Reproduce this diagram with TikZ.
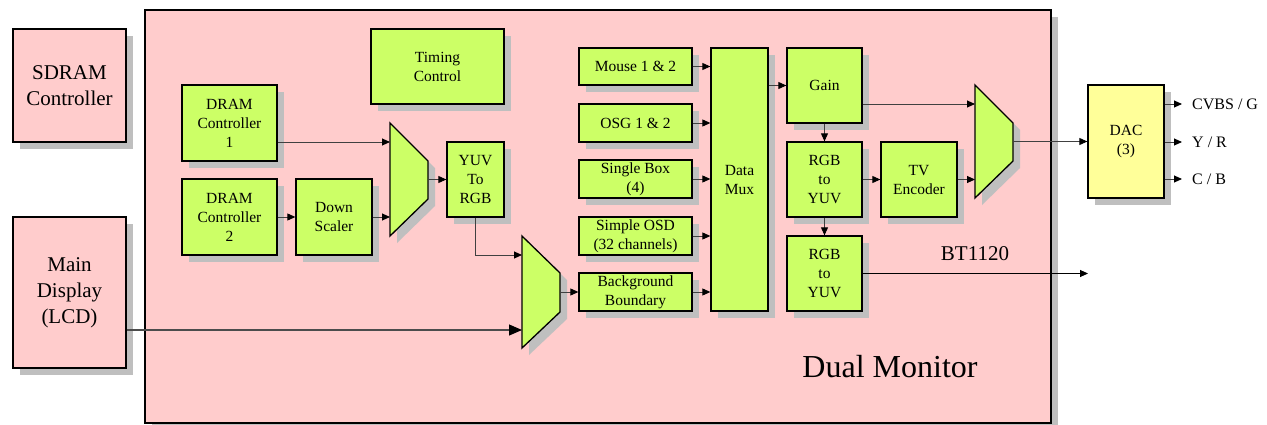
\documentclass[tikz,border=0pt]{standalone}
\usepackage{fontspec}
\setmainfont{Liberation Serif}
\usetikzlibrary{shadows,arrows.meta}
\definecolor{pinkf}{HTML}{FFCCCC}
\definecolor{greenf}{HTML}{CCFF66}
\definecolor{yellowf}{HTML}{FFFF99}
\definecolor{shadowc}{HTML}{BFBFBF}
\tikzset{
  shd/.style={general shadow={fill=shadowc, shadow xshift=7pt, shadow yshift=-7pt}},
  gbox/.style={draw, line width=1.3pt, fill=greenf, shd, align=center, inner sep=0pt, font=\rmfamily\fontsize{15.5}{19}\selectfont},
  pbox/.style={draw, line width=1.3pt, fill=pinkf, shd, align=center, inner sep=0pt, font=\rmfamily\fontsize{21}{26}\selectfont},
  muxshape/.style={draw, line width=1.3pt, fill=greenf, shd, line join=miter},
  conn/.style={draw=black!75, line width=0.9pt, -{Triangle[length=8pt,width=7pt,color=black]}},
  bigconn/.style={draw=black!70, line width=1.1pt, -{Triangle[length=13pt,width=11pt,color=black]}},
  outlbl/.style={anchor=west, inner sep=0pt, font=\rmfamily\fontsize{16}{19}\selectfont}
}
\begin{document}
\begin{tikzpicture}[x=1pt,y=-1pt]
\useasboundingbox (0,0) rectangle (1267,424);
% outer blocks
\node[pbox, minimum width=906pt, minimum height=413pt] (main) at (598,216.5) {};
\node[pbox, minimum width=113pt, minimum height=113pt] (sdram) at (69.5,85.5) {SDRAM\\Controller};
\node[pbox, minimum width=113pt, minimum height=151pt] (lcd) at (69.5,292.5) {Main\\Display\\(LCD)};
% left part
\node[gbox, minimum width=95pt, minimum height=76pt] (dram1) at (229.5,123) {DRAM\\Controller\\1};
\node[gbox, minimum width=95pt, minimum height=76pt] (dram2) at (229.5,217) {DRAM\\Controller\\2};
\node[gbox, minimum width=76pt, minimum height=76pt] (down) at (334,217) {Down\\Scaler};
\node[gbox, minimum width=133pt, minimum height=75pt] (timing) at (437.5,66.5) {Timing\\Control};
\node[gbox, minimum width=57pt, minimum height=75pt] (yuv) at (475.5,179.5) {YUV\\To\\RGB};
% muxes
\path[muxshape] (390,123) -- (428,161) -- (428,199) -- (390,236) -- cycle;
\coordinate (m1a) at (390,142);
\coordinate (m1b) at (390,217);
\coordinate (m1o) at (428,179.5);
\path[muxshape] (522,236) -- (560,273) -- (560,312) -- (522,348) -- cycle;
\coordinate (m2a) at (522,255);
\coordinate (m2b) at (522,330);
\coordinate (m2o) at (560,292);
\path[muxshape] (975,85) -- (1013,123) -- (1013,161) -- (975,198) -- cycle;
\coordinate (m3a) at (975,104);
\coordinate (m3b) at (975,179.5);
\coordinate (m3o) at (1013,141.5);
% middle column
\node[gbox, minimum width=113pt, minimum height=37pt] (mouse) at (635.5,66.5) {Mouse 1 \& 2};
\node[gbox, minimum width=113pt, minimum height=38pt] (osg) at (635.5,123) {OSG 1 \& 2};
\node[gbox, minimum width=113pt, minimum height=38pt] (single) at (635.5,179) {Single Box\\(4)};
\node[gbox, minimum width=113pt, minimum height=38pt] (simple) at (635.5,236) {Simple OSD\\(32 channels)};
\node[gbox, minimum width=113pt, minimum height=38pt] (bb) at (635.5,292) {Background\\Boundary};
\node[gbox, minimum width=57pt, minimum height=263pt] (dmux) at (739.5,179.5) {Data\\Mux};
% right part
\node[gbox, minimum width=75pt, minimum height=75pt] (gain) at (824.5,85.5) {Gain};
\node[gbox, minimum width=75pt, minimum height=75pt] (rgb1) at (824.5,179.5) {RGB\\to\\YUV};
\node[gbox, minimum width=75pt, minimum height=75pt] (rgb2) at (824.5,273.5) {RGB\\to\\YUV};
\node[gbox, minimum width=76pt, minimum height=75pt] (tv) at (919,179.5) {TV\\Encoder};
\node[gbox, fill=yellowf, minimum width=76pt, minimum height=113pt] (dac) at (1126,141.5) {DAC\\(3)};
% labels
\node[outlbl] (cvbs) at (1192,104) {CVBS / G};
\node[outlbl] (yr) at (1192,142) {Y / R};
\node[outlbl] (cb) at (1192,179) {C / B};
\coordinate (cvbsend) at (1182,104);
\coordinate (yrend) at (1182,142);
\coordinate (cbend) at (1182,179);
\coordinate (btend) at (1088,273.5);
\node[font=\rmfamily\fontsize{21}{25}\selectfont] (bt) at (975,254) {BT1120};
\node[font=\rmfamily\fontsize{32}{38}\selectfont] (dual) at (890,367) {Dual Monitor};
% connectors
\draw[conn] (dram1.east |- m1a) -- (m1a);
\draw[conn] (dram2.east) -- (down.west);
\draw[conn] (down.east) -- (m1b);
\draw[conn] (m1o) -- (yuv.west);
\draw[conn] (yuv.south) |- (m2a);
\draw[bigconn] (lcd.east |- m2b) -- (m2b);
\draw[conn] (m2o) -- (bb.west);
\draw[conn] (mouse.east) -- (mouse.east -| dmux.west);
\draw[conn] (osg.east) -- (osg.east -| dmux.west);
\draw[conn] (single.east) -- (single.east -| dmux.west);
\draw[conn] (simple.east) -- (simple.east -| dmux.west);
\draw[conn] (bb.east) -- (bb.east -| dmux.west);
\draw[conn] (dmux.east |- gain.west) -- (gain.west);
\draw[conn] (gain.south) -- (rgb1.north);
\draw[conn] (rgb1.south) -- (rgb2.north);
\draw[conn] (rgb1.east) -- (tv.west);
\draw[conn] (tv.east) -- (m3b);
\draw[conn] (gain.east |- m3a) -- (m3a);
\draw[conn] (m3o) -- (dac.west);
\draw[conn] (dac.east |- cvbsend) -- (cvbsend);
\draw[conn] (dac.east |- yrend) -- (yrend);
\draw[conn] (dac.east |- cbend) -- (cbend);
\draw[conn, draw=black] (rgb2.east) -- (btend);
\end{tikzpicture}
\end{document}
